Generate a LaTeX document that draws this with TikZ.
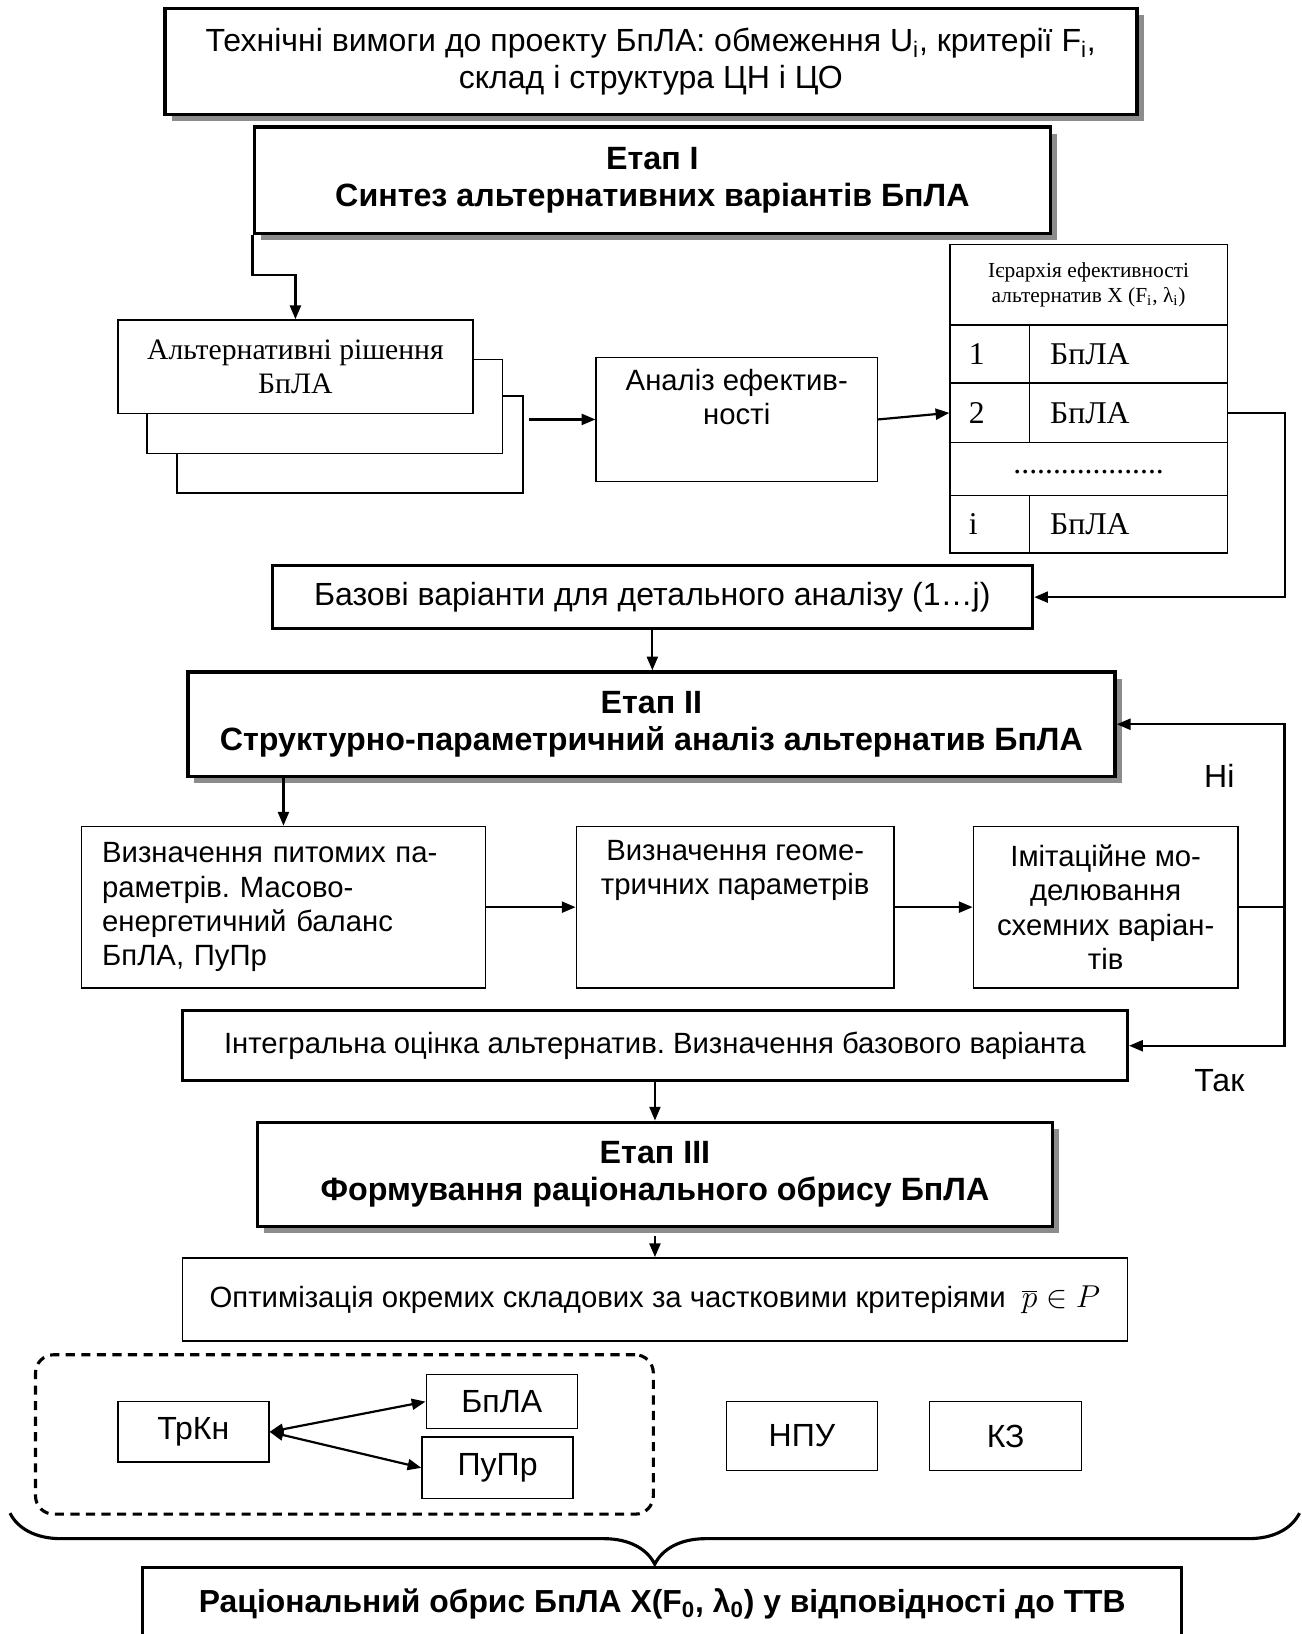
\documentclass[tikz,border=0pt]{standalone}
\usepackage{fontspec}
\setmainfont{Liberation Sans}
\newfontfamily\timesfont{Liberation Serif}
\usetikzlibrary{arrows.meta,shadows,decorations.pathreplacing}
\frenchspacing

\begin{document}
\begin{tikzpicture}[x=0.02cm,y=-0.02cm,
  txt/.style={font=\fontsize{16}{18.7}\selectfont},
  bigtxt/.style={font=\fontsize{17.5}{19.8}\selectfont},
  plainbox/.style={draw, line width=0.8pt, fill=white, align=center, inner sep=0pt, txt},
  thickbox/.style={plainbox, line width=1.7pt},
  mainbox/.style={thickbox, line width=2pt,
    drop shadow={shadow xshift=0.13cm, shadow yshift=-0.13cm, fill=black!45, opacity=1}},
  stagebox/.style={mainbox, font=\bfseries\fontsize{17.6}{20.4}\selectfont},
  serifbox/.style={plainbox, font=\timesfont\fontsize{16.2}{18.7}\selectfont},
  numcell/.style={serifbox, anchor=north west, minimum width=1.52cm, text width=0.8cm, align=left,
    font=\timesfont\fontsize{17.3}{18.7}\selectfont},
  namecell/.style={serifbox, anchor=north west, minimum width=3.8cm, text width=3.0cm, align=left,
    font=\timesfont\fontsize{17.3}{18.7}\selectfont},
  arr/.style={line width=1.2pt, -{Triangle[length=7.5pt,width=6pt]}},
  arrboth/.style={line width=1.2pt, {Triangle[length=7.5pt,width=6pt]}-{Triangle[length=7.5pt,width=6pt]}},
  conn/.style={line width=1.2pt},
  lbl/.style={bigtxt}]
  \useasboundingbox (0,0) rectangle (1249,1568);

  % requirements
  \node[mainbox, minimum width=18.66cm, minimum height=2.04cm, bigtxt] (req) at (624.5,59)
    {Технічні вимоги до проекту БпЛА: обмеження U\textsubscript{i}, критерії F\textsubscript{i},\\склад і структура ЦН і ЦО};

  % stage I
  \node[stagebox, minimum width=15.28cm, minimum height=2.04cm] (st1) at (626,173)
    {Етап I\\Синтез альтернативних варіантів БпЛА};

  % stacked alternatives
  \node[serifbox, minimum width=6.64cm, minimum height=1.86cm] (alt3) at (336,426.5) {};
  \node[serifbox, minimum width=6.82cm, minimum height=1.8cm] (alt2) at (311.5,390) {};
  \node[serifbox, minimum width=6.82cm, minimum height=1.8cm] (alt1) at (283.5,352) {Альтернативні рішення\\БпЛА};

  \node[plainbox, minimum width=5.4cm, minimum height=2.38cm] (eff) at (707,402.5) {Аналіз ефектив-\\ності\\\strut};

  % hierarchy table
  \node[serifbox, anchor=north west, minimum width=5.32cm, minimum height=1.54cm,
        font=\timesfont\fontsize{11.7}{13.6}\selectfont] (hier) at (911,234)
    {Ієрархія ефективності\\альтернатив X (F\textsubscript{i}, λ\textsubscript{i})};
  \node[numcell, minimum height=1.12cm] (n1) at (911,311) {1};
  \node[namecell, minimum height=1.12cm] (b1) at (987,311) {БпЛА};
  \node[numcell, minimum height=1.14cm] (n2) at (911,367) {2};
  \node[namecell, minimum height=1.14cm] (b2) at (987,367) {БпЛА};
  \node[serifbox, anchor=north west, minimum width=5.32cm, minimum height=1.02cm,
        font=\timesfont\fontsize{17.3}{18.7}\selectfont] (dots) at (911,424)
    {\raisebox{-5pt}{...................}};
  \node[numcell, minimum height=1.1cm] (ni) at (911,475) {i};
  \node[namecell, minimum height=1.1cm] (bi) at (987,475) {БпЛА};

  \node[thickbox, minimum width=14.6cm, minimum height=1.2cm, bigtxt] (base) at (626,573)
    {Базові варіанти для детального аналізу (1…j)};

  % stage II
  \node[stagebox, minimum width=17.8cm, minimum height=2cm] (st2) at (625,695)
    {Етап II\\Структурно-параметричний аналіз альтернатив БпЛА};

  \node[plainbox, minimum width=7.76cm, minimum height=3.1cm, text width=6.96cm, align=left] (spec) at (272,870.5)
    {Визначення питомих па-\\раметрів. Масово-\\енергетичний баланс\\БпЛА, ПуПр};
  \node[plainbox, minimum width=6.1cm, minimum height=3.1cm] (geom) at (705.5,870.5)
    {Визначення геоме-\\тричних параметрів\\\strut\\\strut};
  \node[plainbox, minimum width=5.08cm, minimum height=3.1cm] (sim) at (1061,870.5)
    {Імітаційне мо-\\делювання\\схемних варіан-\\тів};

  \node[thickbox, minimum width=18.14cm, minimum height=1.34cm] (integ) at (628.5,1003.5)
    {Інтегральна оцінка альтернатив. Визначення базового варіанта};

  \node[lbl] (no) at (1170,745) {Ні};
  \node[lbl] (yes) at (1170,1037) {Так};

  % stage III
  \node[stagebox, minimum width=15.26cm, minimum height=2cm] (st3) at (628.5,1127)
    {Етап III\\Формування раціонального обрису БпЛА};

  \node[plainbox, minimum width=18.14cm, minimum height=1.6cm] (opt) at (628.5,1247)
    {Оптимізація окремих складових за частковими критеріями \ {\fontsize{19}{20}\selectfont$\overline{p}\in P$}};

  % components
  \node[draw, line width=1.7pt, dash pattern=on 5pt off 3.5pt, rounded corners=0.35cm,
        minimum width=11.86cm, minimum height=3.06cm] (grp) at (330.5,1376.5) {};
  \node[plainbox, bigtxt, minimum width=2.9cm, minimum height=1.16cm] (trkn) at (185.5,1374) {ТрКн};
  \node[plainbox, bigtxt, minimum width=2.9cm, minimum height=1.04cm] (bpla) at (481.5,1345) {БпЛА};
  \node[plainbox, bigtxt, minimum width=2.9cm, minimum height=1.18cm] (pupr) at (477.5,1408.5) {ПуПр};
  \node[plainbox, bigtxt, minimum width=2.9cm, minimum height=1.32cm] (npu) at (769.5,1378) {НПУ};
  \node[plainbox, bigtxt, minimum width=2.92cm, minimum height=1.32cm] (kz) at (965,1378) {КЗ};

  % result
  \draw[line width=1.7pt, decorate, decoration={brace, mirror, amplitude=0.98cm}] (9.6,1452) -- (1247,1452);
  \node[thickbox, anchor=north, minimum width=19.94cm, minimum height=1.4cm, font=\bfseries\fontsize{17.4}{20}\selectfont] (res) at (635.5,1503)
    {Раціональний обрис БпЛА X(F\textsubscript{0}, λ\textsubscript{0}) у відповідності до ТТВ};

  % connectors
  \draw[arr] (st1.south west) -- ++(0,38) -| (alt1.north);
  \draw[arr] ([xshift=3pt]alt3.east |- eff.west) -- (eff.west);
  \draw[arr] (eff.east) -- (n2.west);
  \draw[arr] (b2.east) -- ++(55,0) |- (base.east);
  \draw[arr] (base.south) -- (base.south |- st2.north);
  \draw[arr] (st2.south -| spec.north) -- (spec.north);
  \draw[arr] (spec.east) -- (geom.west);
  \draw[arr] (geom.east) -- (sim.west);
  \draw[conn] (sim.east) -- ++(44,0) coordinate (fork);
  \draw[arr] (fork) |- (st2.east);
  \draw[arr] (fork) |- (integ.east);
  \draw[arr] (integ.south) -- (integ.south |- st3.north);
  \draw[arr] ([yshift=-4pt]st3.south) -- (st3.south |- opt.north);
  \draw[arrboth] (trkn.east) -- (bpla.west);
  \draw[arrboth] (trkn.east) -- (pupr.west);
\end{tikzpicture}
\end{document}
